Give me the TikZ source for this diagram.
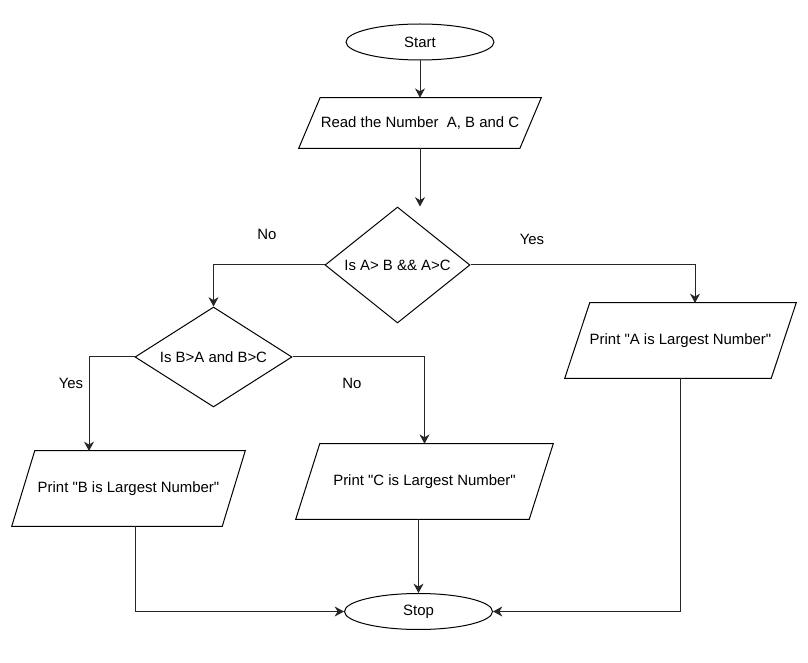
\documentclass[tikz,border=0pt]{standalone}
\usepackage{fontspec}
\setmainfont{Liberation Sans}[Ligatures=TeXOff]
\usetikzlibrary{shapes.geometric,arrows.meta}
\newcommand{\paraoutline}[2]{%
  \draw[black, line width=0.75pt] ([xshift=#2]#1.north west) -- (#1.north east) -- ([xshift=-#2]#1.south east) -- (#1.south west) -- cycle;}
\begin{document}
\begin{tikzpicture}[x=0.75pt,y=-0.75pt,
  every node/.style={font=\fontsize{11.2}{13}\selectfont, text=black},
  term/.style={ellipse, draw=black, line width=0.75pt, inner sep=0pt, minimum width=111pt, minimum height=27pt},
  para/.style={rectangle, draw=none, inner sep=0pt, minimum height=56.25pt},
  dec/.style={diamond, draw=black, line width=0.75pt, inner sep=0pt},
  lbl/.style={inner sep=0pt},
  arr/.style={draw=black!85, line width=0.75pt, -{Stealth[length=7pt,width=7.5pt,inset=2.2pt]}},
  ln/.style={draw=black!85, line width=0.75pt}]
\useasboundingbox (0,0) rectangle (808,663);
\node[term] (start) at (420,42) {Start};
\node[para, minimum width=181.5pt, minimum height=37.5pt] (read) at (420,123) {Read the Number\ \ A, B and C};
\node[dec, shape aspect=1.25, minimum width=108.75pt, minimum height=87pt] (d1) at (397.5,265) {Is A> B \&\& A>C};
\node[dec, shape aspect=1.57, minimum width=117.75pt, minimum height=75pt] (d2) at (213.5,357) {Is B>A and B>C};
\node[para, minimum width=173.25pt] (pa) at (680.5,340.5) {Print "A is Largest Number"};
\node[para, minimum width=174.75pt] (pb) at (128.5,488.5) {Print "B is Largest Number"};
\node[para, minimum width=192.75pt] (pc) at (424.5,481.5) {Print "C is Largest Number"};
\node[term] (stop) at (418.5,611.5) {Stop};
\paraoutline{read}{16pt}
\paraoutline{pa}{18.75pt}
\paraoutline{pb}{17.25pt}
\paraoutline{pc}{18pt}
\node[lbl] (no1) at (267,234) {No};
\node[lbl] (yes1) at (532,239) {Yes};
\node[lbl] (yes2) at (71,383) {Yes};
\node[lbl] (no2) at (352,383) {No};
\coordinate (bin) at (89,451);
\coordinate (bout) at (135,526);
\coordinate (ain) at (695,303);
\draw[arr] (start.south) -- (read.north);
\draw[arr] (read.south) -- (read.south |- d1.north);
\draw[arr] (d1.west) -| (d2.north);
\draw[arr] (d1.east) -| (ain);
\draw[arr] (d2.west) -| (bin);
\draw[arr] (d2.east) -| (pc.north);
\draw[arr] (stop.north |- pc.south) -- (stop.north);
\draw[arr] (bout) |- (stop.west);
\draw[arr] (pa.south) |- (stop.east);
\end{tikzpicture}
\end{document}
